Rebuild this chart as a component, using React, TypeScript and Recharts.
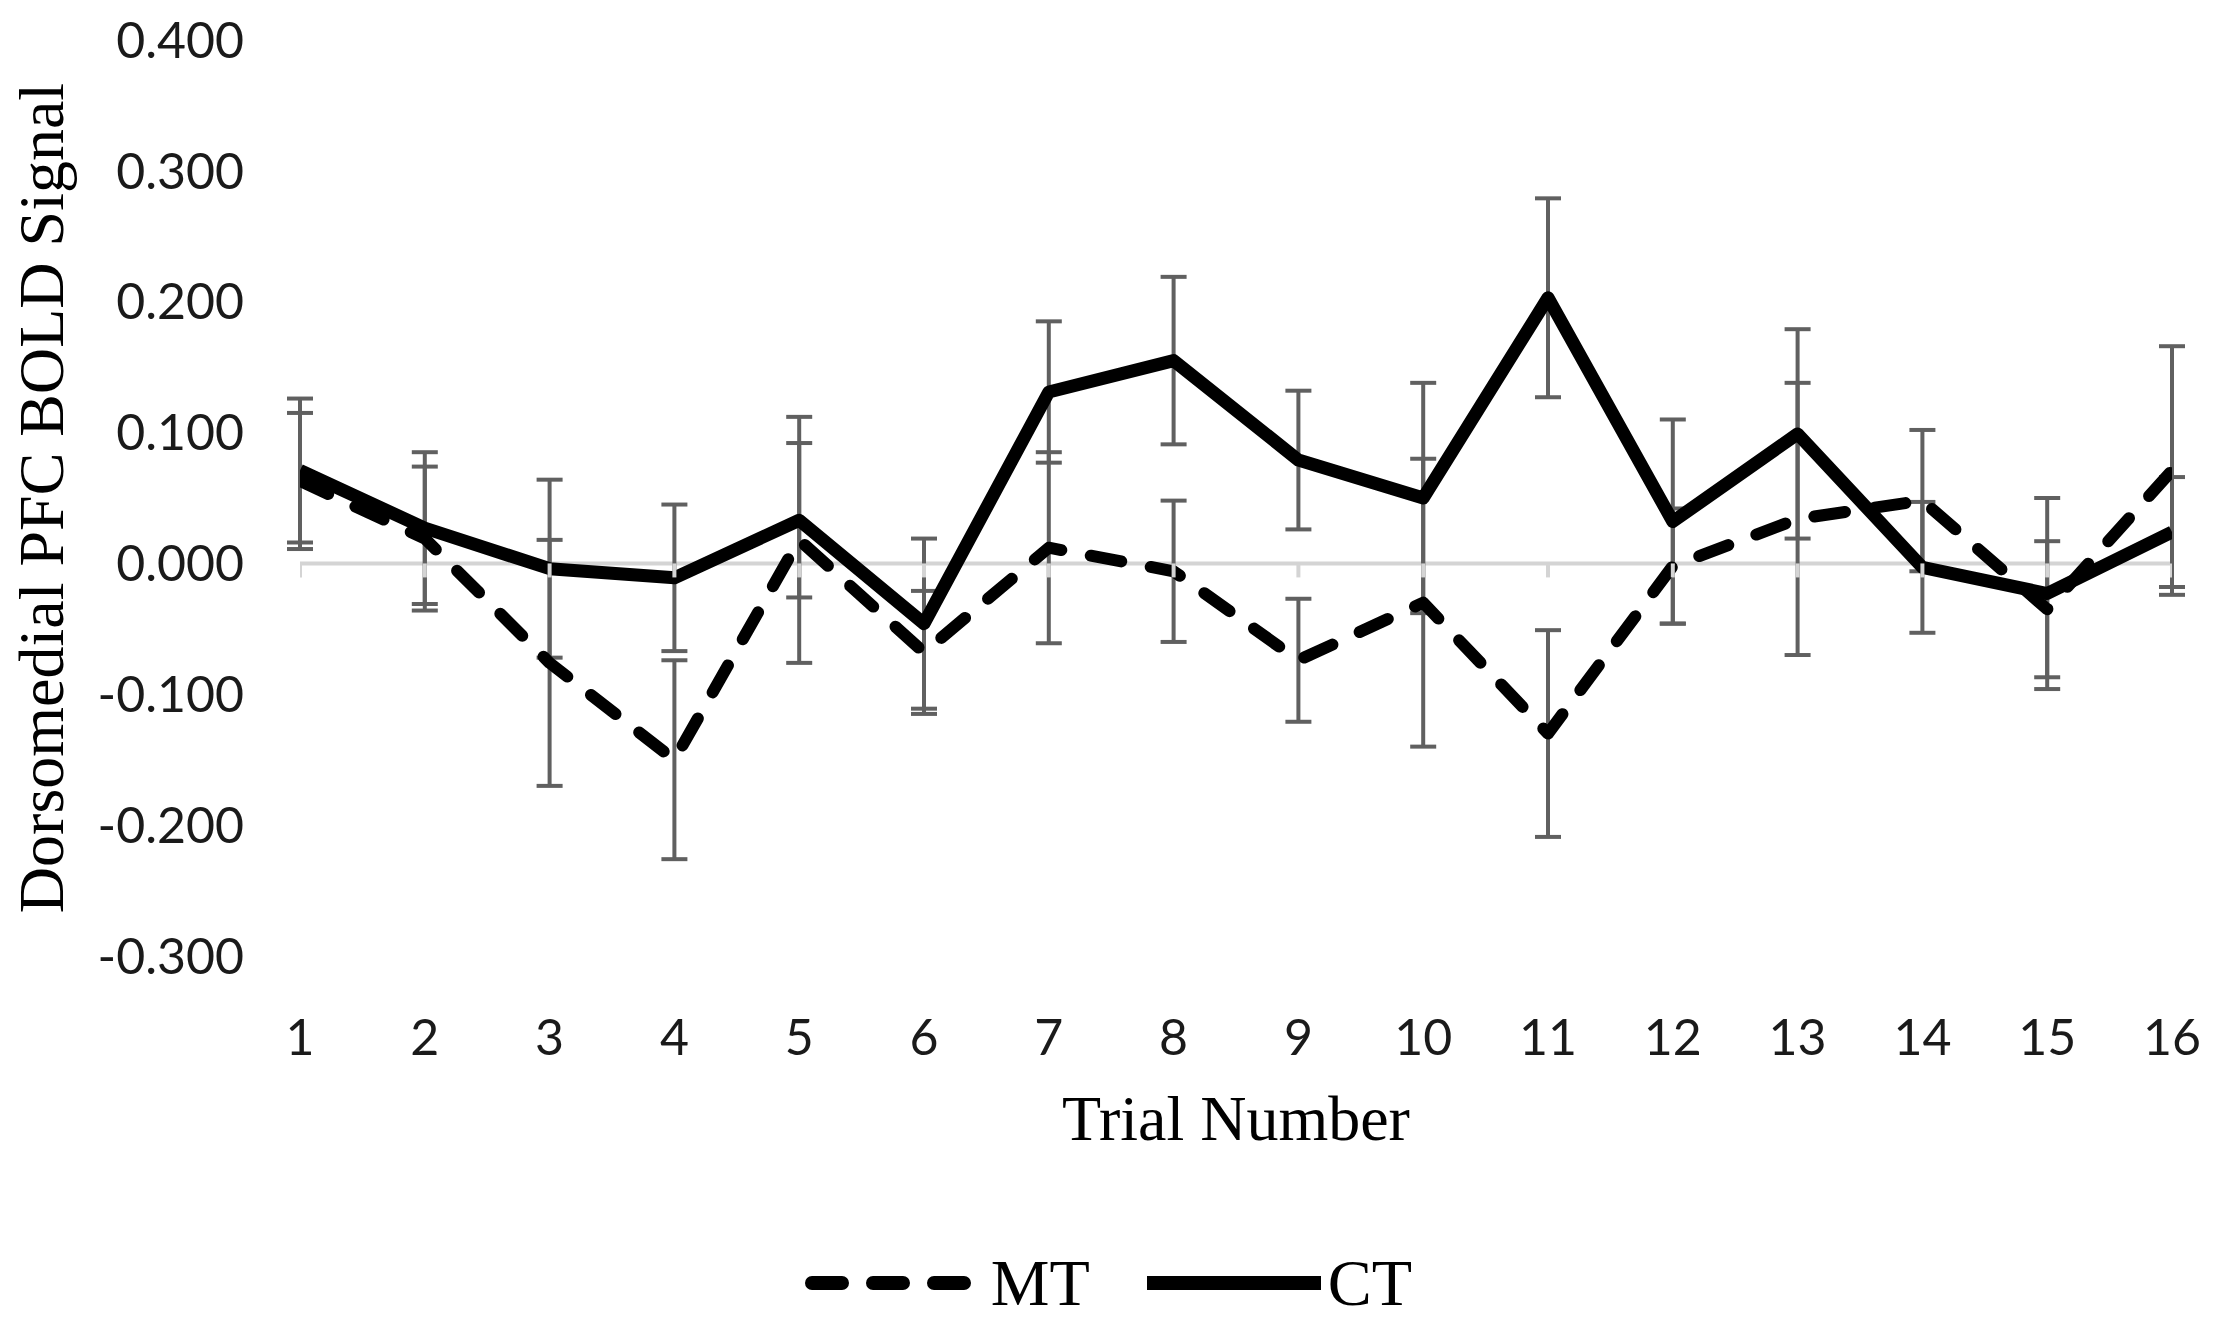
import { ComposedChart, Line, XAxis, YAxis, ReferenceLine, ErrorBar, Scatter, Legend, Label } from "recharts";

// Values (dorsomedial PFC BOLD by trial, means ± error)
const trials = [1, 2, 3, 4, 5, 6, 7, 8, 9, 10, 11, 12, 13, 14, 15, 16];
const mtMean = [0.063, 0.019, -0.076, -0.15, 0.018, -0.068, 0.012, -0.006, -0.074, -0.03, -0.13, -0.002, 0.034, 0.048, -0.035, 0.071];
const mtErr = [0.052, 0.055, 0.094, 0.076, 0.094, 0.047, 0.073, 0.054, 0.047, 0.11, 0.079, 0.044, 0.104, 0.054, 0.052, 0.095];
const ctMean = [0.071, 0.027, -0.004, -0.011, 0.033, -0.046, 0.131, 0.155, 0.079, 0.05, 0.203, 0.032, 0.099, -0.003, -0.023, 0.024];
const ctErr = [0.055, 0.058, 0.068, 0.056, 0.059, 0.065, 0.054, 0.064, 0.053, 0.088, 0.076, 0.078, 0.08, 0.05, 0.073, 0.042];
const yTicks = [-0.3, -0.2, -0.1, 0, 0.1, 0.2, 0.3, 0.4];

const data = trials.map((trial, i) => ({
  trial,
  mt: mtMean[i],
  mtErr: mtErr[i],
  ct: ctMean[i],
  ctErr: ctErr[i],
  base: 0,
}));

const SERIF = "'Liberation Serif', 'Times New Roman', serif";
const SANS = "Lato, 'Open Sans', sans-serif";
const ERR_GREY = "#606060";
const ZERO_GREY = "#d4d4d4";

// little tick marks hanging under the zero line
const ZeroTick = (props: any) => {
  const { cx, cy } = props;
  if (cx == null || cy == null) return null;
  return <line x1={cx} y1={cy} x2={cx} y2={cy + 14} stroke={ZERO_GREY} strokeWidth={4} />;
};

const YTitle = (props: any) => {
  const vb = props.viewBox;
  const x = vb.x + 63;
  const y = vb.y + vb.height / 2;
  return (
    <text x={x} y={y} transform={`rotate(-90, ${x}, ${y})`} textAnchor="middle" fontFamily={SERIF} fontSize={64} fill="#000">
      Dorsomedial PFC BOLD Signal
    </text>
  );
};

const XTitle = (props: any) => {
  const vb = props.viewBox;
  return (
    <text x={vb.x + vb.width / 2} y={vb.y + 184} textAnchor="middle" fontFamily={SERIF} fontSize={64} fill="#000">
      Trial Number
    </text>
  );
};

const LegendContent = () => (
  <div style={{ display: "flex", justifyContent: "center", alignItems: "center", fontFamily: SERIF, fontSize: 66, color: "#000" }}>
    <svg width={172} height={20}>
      <line x1={7} y1={10} x2={165} y2={10} stroke="#000" strokeWidth={14} strokeDasharray="30 31" strokeLinecap="round" />
    </svg>
    <span style={{ marginLeft: 14, marginRight: 57, lineHeight: 1 }}>MT</span>
    <svg width={174} height={20}>
      <line x1={0} y1={10} x2={174} y2={10} stroke="#000" strokeWidth={14} />
    </svg>
    <span style={{ marginLeft: 7, lineHeight: 1 }}>CT</span>
  </div>
);

export default function App() {
  return (
    <div style={{ position: "absolute", left: 0, top: 0, background: "#fff" }}>
      <ComposedChart width={2217} height={1323} data={data} margin={{ top: 40, right: 45, left: 0, bottom: 0 }}>
        <XAxis
          dataKey="trial"
          type="number"
          domain={[1, 16]}
          ticks={trials}
          interval={0}
          allowDataOverflow
          axisLine={false}
          tickLine={false}
          tickSize={0}
          tickMargin={63}
          height={367}
          tick={{ fontSize: 50, fontFamily: SANS, fill: "#1a1a1a" }}
        >
          <Label content={XTitle} />
        </XAxis>
        <YAxis
          type="number"
          domain={[-0.3, 0.4]}
          ticks={yTicks}
          interval={0}
          allowDataOverflow
          width={300}
          axisLine={false}
          tickLine={false}
          tickSize={0}
          tickMargin={56}
          tickFormatter={(v: number) => v.toFixed(3)}
          tick={{ fontSize: 50, fontFamily: SANS, fill: "#1a1a1a" }}
        >
          <Label content={YTitle} />
        </YAxis>
        <ReferenceLine y={0} stroke={ZERO_GREY} strokeWidth={4} />
        <Scatter dataKey="base" shape={ZeroTick} isAnimationActive={false} legendType="none" />

        {/* error bars first so the thick lines sit on top of them */}
        <Line dataKey="mt" stroke="none" dot={false} activeDot={false} legendType="none" isAnimationActive={false}>
          <ErrorBar dataKey="mtErr" direction="y" width={13} stroke={ERR_GREY} strokeWidth={4} isAnimationActive={false} />
        </Line>
        <Line dataKey="ct" stroke="none" dot={false} activeDot={false} legendType="none" isAnimationActive={false}>
          <ErrorBar dataKey="ctErr" direction="y" width={13} stroke={ERR_GREY} strokeWidth={4} isAnimationActive={false} />
        </Line>

        <Line
          dataKey="mt"
          name="MT"
          type="linear"
          stroke="#000"
          strokeWidth={12}
          strokeDasharray="31 30"
          strokeLinecap="round"
          strokeLinejoin="round"
          dot={false}
          activeDot={false}
          isAnimationActive={false}
        />
        <Line
          dataKey="ct"
          name="CT"
          type="linear"
          stroke="#000"
          strokeWidth={13}
          strokeLinejoin="round"
          dot={false}
          activeDot={false}
          isAnimationActive={false}
        />
        <Legend verticalAlign="middle" align="center" content={LegendContent} wrapperStyle={{ top: 1250, left: 0, width: 2217 }} />
      </ComposedChart>
    </div>
  );
}
